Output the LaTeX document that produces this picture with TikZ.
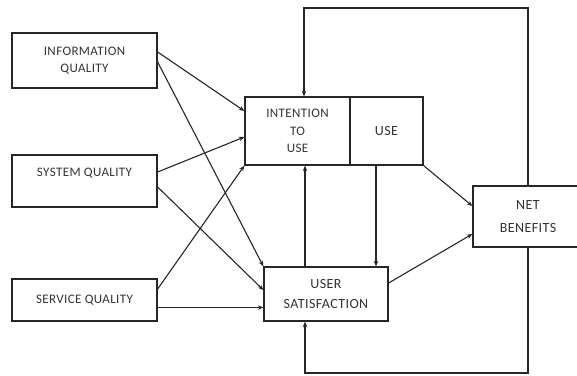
\documentclass[tikz,border=0pt]{standalone}
\usepackage{fontspec}
\setmainfont{Carlito}[LetterSpace=3]
\usetikzlibrary{arrows.meta}

\begin{document}
\begin{tikzpicture}[x=1pt, y=-1pt, >={Stealth[length=5.5pt,width=4.5pt]},
    every node/.style={draw=black!85, line width=1.3pt, align=center, text=black!80,
        font=\fontsize{13}{17.5}\selectfont, inner sep=0pt},
    bigtext/.style={font=\fontsize{14}{#1}\selectfont},
    flow/.style={->, line width=1.1pt, draw=black!85}]
    \useasboundingbox (0,0) rectangle (577,375);
    \clip (0,0) rectangle (577,375);

    % Boxes
    \node (info) [minimum width=145pt, minimum height=55pt] at (84.5,60.5) {INFORMATION\\QUALITY};
    \node (sys) [minimum width=145pt, minimum height=52pt] at (84.5,181) {SYSTEM QUALITY\\~};
    \node (serv) [minimum width=145pt, minimum height=42pt] at (84.5,300) {SERVICE QUALITY};
    \node (intent) [minimum width=105pt, minimum height=68pt] at (297.5,131) {INTENTION\\TO\\USE};
    \node (use) [minimum width=73pt, minimum height=68pt, bigtext=17] at (386.5,131) {USE};
    \node (usat) [minimum width=124pt, minimum height=54pt, bigtext=20] at (326,294) {USER\\SATISFACTION};
    \node (net) [minimum width=110pt, minimum height=61pt, bigtext=23] at (528,216.5) {NET\\BENEFITS};

    % Rails for the feedback loops
    \coordinate (toprail) at (0,8);
    \coordinate (botrail) at (0,373);

    % Quality arrows
    \draw[flow] ([yshift=8.5pt]info.east) -- ([yshift=20pt]intent.west);
    \draw[flow] ([yshift=-1.5pt]info.east) -- (usat.north west);
    \draw[flow] ([yshift=9pt]sys.east) -- ([yshift=-6pt]intent.west);
    \draw[flow] ([yshift=-6pt]sys.east) -- ([yshift=4pt]usat.west);
    \draw[flow] ([yshift=11pt]serv.east) -- (intent.south west);
    \draw[flow] ([yshift=-7.5pt]serv.east) -- ([yshift=-13.5pt]usat.west);

    % Use and satisfaction
    \draw[flow] ([xshift=-21pt]usat.north) -- ([xshift=-21pt]usat.north |- intent.south);
    \draw[flow] ([xshift=-10.5pt]use.south) -- ([xshift=-10.5pt]use.south |- usat.north);
    \draw[flow] (use.south east) -- ([yshift=10.5pt]net.west);
    \draw[flow] ([yshift=11pt]usat.east) -- ([yshift=-17.5pt]net.west);

    % Feedback from net benefits
    \draw[flow] (net.north) -- (net.north |- toprail) -| ([xshift=6.5pt]intent.north);
    \draw[flow] (net.south) -- (net.south |- botrail) -| ([xshift=-21pt]usat.south);
\end{tikzpicture}
\end{document}
